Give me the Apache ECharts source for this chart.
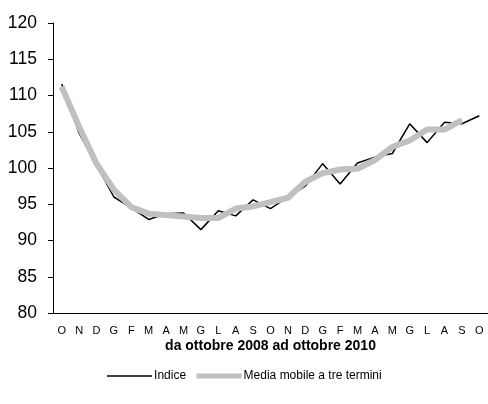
<!DOCTYPE html>
<html>
<head>
<meta charset="utf-8">
<script src="https://cdn.jsdelivr.net/npm/echarts@6/dist/echarts.min.js"></script>
<style>
  html, body { margin: 0; padding: 0; background: #fff; }
  #chart { width: 488px; height: 404px; }
</style>
</head>
<body>
<div id="chart"></div>
<script>
// mesi da ottobre 2008 a ottobre 2010
const months = ['O', 'N', 'D', 'G', 'F', 'M', 'A', 'M', 'G', 'L', 'A', 'S',
    'O', 'N', 'D', 'G', 'F', 'M', 'A', 'M', 'G', 'L', 'A', 'S', 'O'];
const indice = [111.6, 104.8, 100.4, 96.0, 94.5, 92.9, 93.7, 93.8, 91.5, 94.1, 93.4, 95.6,
    94.4, 96.0, 97.5, 100.6, 97.8, 100.7, 101.5, 102.0, 106.1, 103.5, 106.3, 106.1, 107.2];
const mediaMobile = [111.2, 105.7, 100.6, 97.0, 94.6, 93.7, 93.5, 93.3, 93.1, 93.1, 94.4, 94.7,
    95.3, 95.9, 98.1, 99.3, 99.8, 99.9, 101.1, 102.9, 103.8, 105.3, 105.3, 106.6];
const yTicks = [80, 85, 90, 95, 100, 105, 110, 115, 120];

const font = '"Liberation Sans", Arial, sans-serif';
const chart = echarts.init(document.getElementById('chart'));

const option = {
    animation: false,
    textStyle: { fontFamily: font, color: '#000' },
    grid: { left: 53, right: -2, top: 23, bottom: 91 },
    xAxis: {
        type: 'category',
        data: months,
        boundaryGap: true,
        name: 'da ottobre 2008 ad ottobre 2010',
        nameLocation: 'middle',
        nameGap: 26,
        nameMoveOverlap: false,
        nameTextStyle: { fontFamily: font, fontSize: 14, fontWeight: 'bold', color: '#000' },
        axisLine: { lineStyle: { color: '#000', width: 1 } },
        axisTick: { length: 5, lineStyle: { color: '#000' } },
        axisLabel: { interval: 0, fontSize: 11, color: '#000', margin: 12 },
    },
    yAxis: {
        type: 'value',
        min: yTicks[0],
        max: yTicks[yTicks.length - 1],
        interval: 5,
        axisLine: { show: true, lineStyle: { color: '#000', width: 1 } },
        axisTick: { show: true, length: 5, lineStyle: { color: '#000' } },
        splitLine: { show: false },
        axisLabel: { fontSize: 17.5, color: '#000', margin: 16 },
    },
    legend: {
        bottom: 17,
        left: 'center',
        itemWidth: 45,
        itemHeight: 12,
        itemGap: 8,
        itemStyle: { opacity: 0 },
        textStyle: { fontFamily: font, fontSize: 12, color: '#000', padding: [0, 0, 0, -3] },
        data: [
            { name: 'Indice', lineStyle: { width: 1.5 } },
            { name: 'Media mobile a tre termini', lineStyle: { width: 5 } },
        ],
    },
    series: [
        {
            name: 'Indice',
            type: 'line',
            data: indice,
            symbol: 'none',
            color: '#000',
            lineStyle: { color: '#000', width: 1.5 },
        },
        {
            name: 'Media mobile a tre termini',
            type: 'line',
            data: mediaMobile,
            symbol: 'none',
            color: '#c0c0c0',
            lineStyle: { color: '#c0c0c0', width: 6 },
        },
    ],
};

chart.setOption(option);
</script>
</body>
</html>
